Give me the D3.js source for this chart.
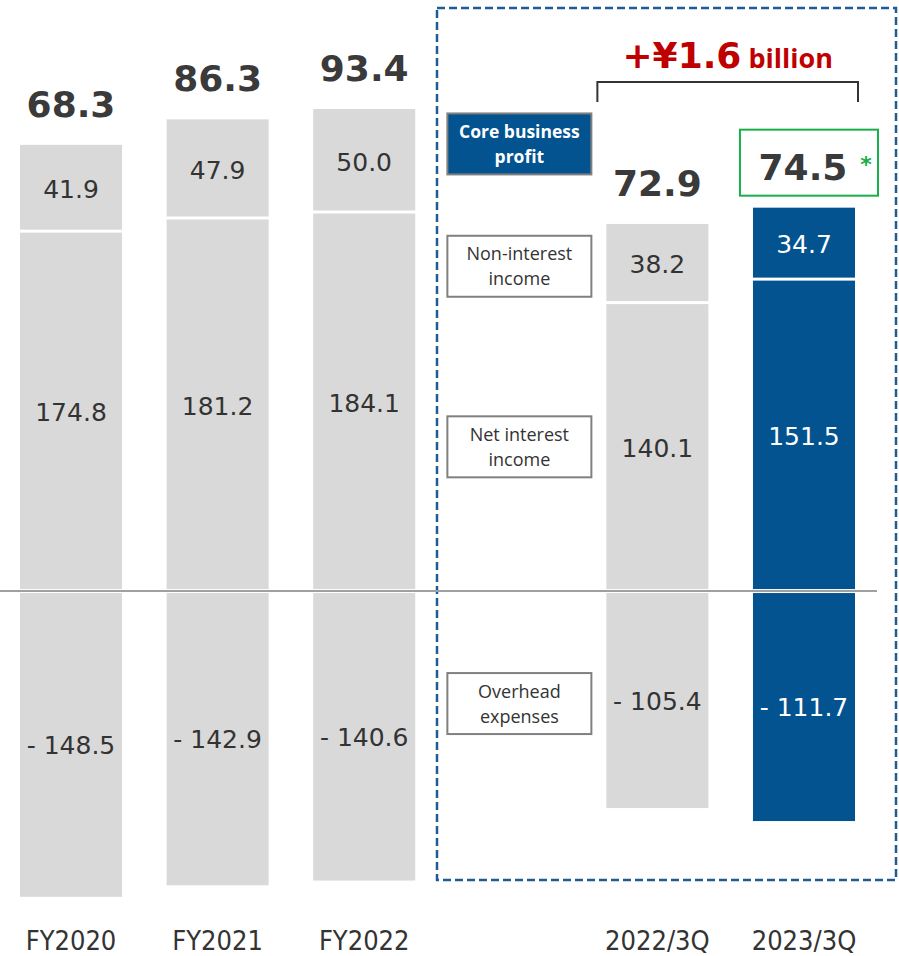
<!DOCTYPE html>
<html>
<head>
<meta charset="utf-8">
<script src="https://cdn.jsdelivr.net/npm/d3@7"></script>
<style>
  html, body { margin: 0; padding: 0; background: #fff; }
  svg { display: block; }
</style>
</head>
<body>
<svg id="chart" width="899" height="956"></svg>
<script>
// Core business profit breakdown (¥ billion)
const periods      = ["FY2020", "FY2021", "FY2022", "2022/3Q", "2023/3Q"];
const nonInterest  = [41.9, 47.9, 50.0, 38.2, 34.7];
const netInterest  = [174.8, 181.2, 184.1, 140.1, 151.5];
const overhead     = [-148.5, -142.9, -140.6, -105.4, -111.7];
const coreProfit   = [68.3, 86.3, 93.4, 72.9, 74.5];
const highlighted  = "2023/3Q";
const changeLabel  = "+¥1.6";
const changeUnit   = " billion";
const segmentNames = [["Non-interest", "income"], ["Net interest", "income"], ["Overhead", "expenses"]];

const GRAY = "#d9d9d9", BLUE = "#02538f", TEXT = "#333333";
const NUM_FONT = "'DejaVu Sans', Verdana, sans-serif";
const LBL_FONT = "'Open Sans', 'Noto Sans', sans-serif";

const svg = d3.select("#chart");

// a blank slot separates annual and quarterly figures
const SPACER = "__spacer__";
const x = d3.scaleBand()
  .domain([periods[0], periods[1], periods[2], SPACER, periods[3], periods[4]])
  .range([20, 855])
  .paddingInner(0.304)
  .paddingOuter(0);

const y = d3.scaleLinear().domain([-150, 240]).range([899.9, 96.9]);

// each segment: value range plus whether its top / bottom edge borders another segment
const rows = periods.map((p, i) => ({
  period: p,
  segs: [
    { v0: netInterest[i], v1: netInterest[i] + nonInterest[i], val: nonInterest[i], gapTop: 0, gapBot: 1.5 },
    { v0: 0, v1: netInterest[i], val: netInterest[i], gapTop: 1.5, gapBot: 2 },
    { v0: overhead[i], v1: 0, val: overhead[i], gapTop: 2, gapBot: 0 }
  ],
  total: coreProfit[i],
  top: netInterest[i] + nonInterest[i]
}));

// highlight box around the quarterly comparison
const qLeft = x(periods[3]), qRight = x(periods[4]) + x.bandwidth();
svg.append("rect")
  .attr("x", 437).attr("y", 8)
  .attr("width", 459).attr("height", 872)
  .attr("fill", "none")
  .attr("stroke", "#1d5c96").attr("stroke-width", 2.5)
  .attr("stroke-dasharray", "8,4");

// stacked bars
const g = svg.append("g");
rows.forEach(r => {
  const isHi = r.period === highlighted;
  const col = g.append("g");
  col.selectAll("rect").data(r.segs).join("rect")
    .attr("x", x(r.period))
    .attr("width", x.bandwidth())
    .attr("y", d => y(d.v1) + d.gapTop)
    .attr("height", d => y(d.v0) - y(d.v1) - d.gapTop - d.gapBot)
    .attr("fill", isHi ? BLUE : GRAY);

  col.selectAll("text.seg").data(r.segs).join("text")
    .attr("class", "seg")
    .attr("x", x(r.period) + x.bandwidth() / 2)
    .attr("y", d => (y(d.v0) + y(d.v1)) / 2 + 10)
    .attr("text-anchor", "middle")
    .attr("font-family", NUM_FONT)
    .attr("font-size", 25)
    .attr("fill", isHi ? "#ffffff" : TEXT)
    .text(d => d.val < 0 ? "- " + d3.format(".1f")(-d.val) : d3.format(".1f")(d.val));

  col.append("text")
    .attr("x", x(r.period) + x.bandwidth() / 2 + (isHi ? -1 : 0))
    .attr("y", y(r.top) - 28)
    .attr("text-anchor", "middle")
    .attr("font-family", NUM_FONT)
    .attr("font-weight", "bold")
    .attr("font-size", 36)
    .attr("fill", "#3a3a3a")
    .text(d3.format(".1f")(r.total));
});

// zero line
svg.append("line")
  .attr("x1", 0).attr("x2", 877)
  .attr("y1", y(0)).attr("y2", y(0))
  .attr("stroke", "#a0a0a0").attr("stroke-width", 2);

// green frame around latest core profit
const hi = rows.find(r => r.period === highlighted);
const hiX = x(highlighted);
const hiBase = y(hi.top) - 28;
svg.append("rect")
  .attr("x", hiX - 13).attr("y", hiBase - 50)
  .attr("width", x.bandwidth() + 36).attr("height", 66)
  .attr("fill", "none").attr("stroke", "#19b04b").attr("stroke-width", 2);
svg.append("text")
  .attr("x", hiX + x.bandwidth() + 11).attr("y", hiBase - 8)
  .attr("text-anchor", "middle")
  .attr("font-family", NUM_FONT).attr("font-weight", "bold")
  .attr("font-size", 22).attr("fill", "#19b04b")
  .text("*");

// change bracket
const bx0 = qLeft - 9, bx1 = qRight + 3, by = 82;
svg.append("path")
  .attr("d", `M${bx0},${by + 20}V${by}H${bx1}V${by + 20}`)
  .attr("fill", "none").attr("stroke", "#333").attr("stroke-width", 2);
const ct = svg.append("text")
  .attr("x", (bx0 + bx1) / 2).attr("y", 68)
  .attr("text-anchor", "middle")
  .attr("font-family", NUM_FONT).attr("font-weight", "bold")
  .attr("fill", "#c00000");
ct.append("tspan").attr("font-size", 36).text(changeLabel);
ct.append("tspan").attr("font-family", LBL_FONT).attr("font-size", 27).text(changeUnit);

// legend boxes beside the quarterly bars
const q = rows[3];
const boxRight = x(periods[3]) - 15, boxW = 144, boxH = 61, boxLeft = boxRight - boxW;
const legendItems = [
  { lines: ["Core business", "profit"], cy: y(q.top) - 28 - 52, fill: BLUE, color: "#fff", bold: true, size: 17.5 },
  { lines: segmentNames[0], cy: (y(q.segs[0].v0) + y(q.segs[0].v1)) / 2 + 3, fill: "#fff", color: TEXT, size: 18 },
  { lines: segmentNames[1], cy: (y(q.segs[1].v0) + y(q.segs[1].v1)) / 2, fill: "#fff", color: TEXT, size: 18 },
  { lines: segmentNames[2], cy: (y(q.segs[2].v0) + y(q.segs[2].v1)) / 2 + 4, fill: "#fff", color: TEXT, size: 18 }
];
legendItems.forEach(it => {
  svg.append("rect")
    .attr("x", boxLeft).attr("y", it.cy - boxH / 2)
    .attr("width", boxW).attr("height", boxH)
    .attr("fill", it.fill)
    .attr("stroke", "#808080").attr("stroke-width", 2);
  it.lines.forEach((ln, k) => {
    svg.append("text")
      .attr("x", boxLeft + boxW / 2)
      .attr("y", it.cy - 6 + k * 25)
      .attr("text-anchor", "middle")
      .attr("font-family", LBL_FONT)
      .attr("font-weight", it.bold ? "bold" : "normal")
      .attr("font-size", it.size)
      .attr("fill", it.color)
      .text(ln);
  });
});

// category axis labels
svg.append("g").selectAll("text").data(periods).join("text")
  .attr("x", d => x(d) + x.bandwidth() / 2)
  .attr("y", 950)
  .attr("text-anchor", "middle")
  .attr("font-family", "'DejaVu Sans Condensed', 'DejaVu Sans', sans-serif")
  .attr("font-stretch", "condensed")
  .attr("font-size", 27)
  .attr("fill", TEXT)
  .text(d => d);
</script>
</body>
</html>
